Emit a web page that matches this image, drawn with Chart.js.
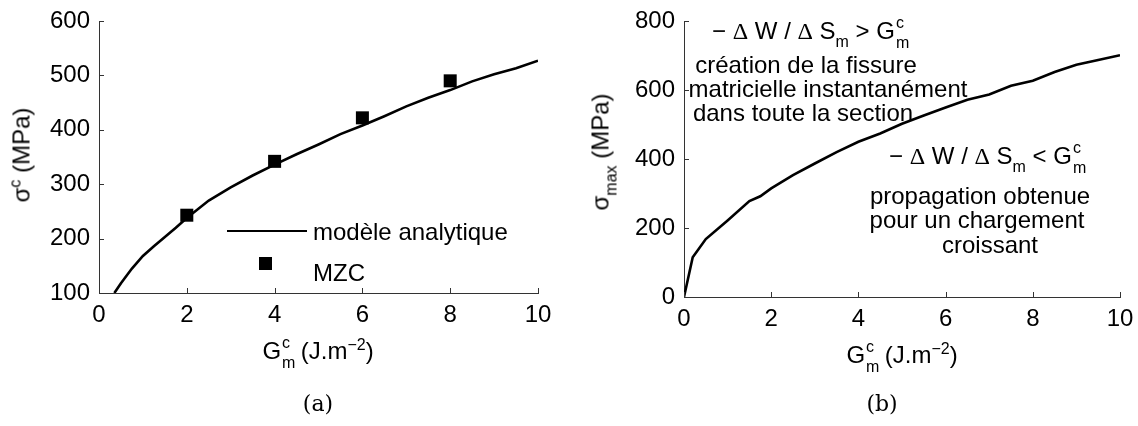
<!DOCTYPE html>
<html>
<head>
<meta charset="utf-8">
<script src="https://cdn.jsdelivr.net/npm/chart.js@4/dist/chart.umd.min.js"></script>
<style>
  html, body { margin:0; padding:0; background:#fff; }
  #wrap { position:relative; width:1138px; height:426px; overflow:hidden; background:#fff; }
  #cA { position:absolute; left:0; top:0; }
  #cB { position:absolute; left:560px; top:0; }
  .t { position:absolute; white-space:nowrap; transform:translate(-50%,-50%);
       font-family:"Liberation Sans", Arial, sans-serif; font-size:24px; color:#000; line-height:28px; }
  .l { position:absolute; white-space:nowrap; transform:translate(0,-50%);
       font-family:"Liberation Sans", Arial, sans-serif; font-size:24px; color:#000; line-height:28px; }
  .rot { transform:translate(-50%,-50%) rotate(-90deg); }
  .cap { font-family:"DejaVu Serif", "Liberation Serif", serif; font-size:22px; }
  .sup { font-size:16px; position:relative; top:-9px; }
  .sub { font-size:16px; position:relative; top:8px; }
  .ss { display:inline-block; position:relative; width:13px; height:20px; vertical-align:baseline; }
  .ss .a { position:absolute; left:1px; top:-4px; font-size:16px; line-height:16px; }
  .ss .b { position:absolute; left:1px; top:16px; font-size:16px; line-height:16px; }
  .dl { font-family:"Liberation Serif", "DejaVu Serif", serif; }
</style>
</head>
<body>
<div id="wrap">
  <canvas id="cA" width="560" height="426"></canvas>
  <canvas id="cB" width="578" height="426"></canvas>

  <!-- left chart texts -->
  <div class="t rot" style="left:23px; top:155px;">σ<span class="sup">c</span> (MPa)</div>
  <div class="t" style="left:318px; top:352px;">G<span class="ss"><span class="a">c</span><span class="b">m</span></span> (J.m<span class="sup">−2</span>)</div>
  <div class="t cap" style="left:318px; top:404px;">(a)</div>
  <div id="legLine" style="position:absolute; left:227px; top:230px; width:80px; height:0; border-top:2px solid #000;"></div>
  <div id="legSq" style="position:absolute; left:259px; top:257px; width:13px; height:13px; background:#000;"></div>
  <div class="l" style="left:313px; top:232px;">modèle analytique</div>
  <div class="l" style="left:313px; top:273px;">MZC</div>

  <!-- right chart texts -->
  <div class="t rot" style="left:602px; top:152px;">σ<span class="sub">max</span> (MPa)</div>
  <div class="t" style="left:902px; top:356px;">G<span class="ss"><span class="a">c</span><span class="b">m</span></span> (J.m<span class="sup">−2</span>)</div>
  <div class="t cap" style="left:882px; top:404px;">(b)</div>

  <div class="t" style="left:810px; top:32px;">− <span class="dl">Δ</span> W / <span class="dl">Δ</span> S<span class="sub">m</span> &gt; G<span class="ss"><span class="a">c</span><span class="b">m</span></span></div>
  <div class="t" style="left:806px; top:65px;">création de la fissure</div>
  <div class="t" style="left:828px; top:89px;">matricielle instantanément</div>
  <div class="t" style="left:803px; top:113px;">dans toute la section</div>

  <div class="t" style="left:987px; top:157px;">− <span class="dl">Δ</span> W / <span class="dl">Δ</span> S<span class="sub">m</span> &lt; G<span class="ss"><span class="a">c</span><span class="b">m</span></span></div>
  <div class="t" style="left:980px; top:196px;">propagation obtenue</div>
  <div class="t" style="left:977px; top:220px;">pour un chargement</div>
  <div class="t" style="left:990px; top:245px;">croissant</div>
</div>

<script>
// ---- data ----
const modelX = [0.35, 0.5, 0.75, 1, 1.25, 1.5, 1.75, 2, 2.5, 3, 3.5, 4, 4.5, 5, 5.5, 6, 6.5, 7, 7.5, 8, 8.5, 9, 9.5, 10];
const modelY = [100, 118, 145, 168, 186, 203, 220, 238, 270, 294, 316, 336, 355, 373, 392, 408, 425, 443, 459, 473, 489, 502, 513, 527];
const mzcX = [2, 4, 6, 8];
const mzcY = [243, 342, 422, 490];
const sigmaMaxX = [0, 0.2, 0.5, 1, 1.5, 1.75, 2, 2.5, 3, 3.5, 4, 4.5, 5, 5.5, 6, 6.5, 7, 7.5, 8, 8.5, 9, 9.5, 10];
const sigmaMaxY = [0, 115, 168, 222, 278, 292, 315, 353, 387, 420, 450, 474, 502, 526, 549, 572, 587, 612, 627, 652, 673, 687, 701];
const xTicksA = [0, 2, 4, 6, 8, 10];
const yTicksA = [100, 200, 300, 400, 500, 600];
const xTicksB = [0, 2, 4, 6, 8, 10];
const yTicksB = [0, 200, 400, 600, 800];

const FONT = { family: '"Liberation Sans", Arial, sans-serif', size: 24 };
const AXIS = '#333';

function pts(xs, ys) { return xs.map((x, i) => ({ x: x, y: ys[i] })); }

const inwardTicks = {
  id: 'inwardTicks',
  afterDraw(chart) {
    const ctx = chart.ctx, a = chart.chartArea;
    const xs = chart.scales.x, ys = chart.scales.y;
    ctx.save();
    ctx.strokeStyle = AXIS; ctx.lineWidth = 1;
    ctx.beginPath();
    xs.ticks.forEach(t => { const px = Math.round(xs.getPixelForValue(t.value)) + 0.5; ctx.moveTo(px, a.bottom); ctx.lineTo(px, a.bottom - 5); });
    ys.ticks.forEach(t => { const py = Math.round(ys.getPixelForValue(t.value)) + 0.5; ctx.moveTo(a.left, py); ctx.lineTo(a.left + 5, py); });
    ctx.stroke();
    ctx.restore();
  }
};

function makeScales(xTicks, yTicks, yW, xH) {
  return {
    x: {
      type: 'linear', min: xTicks[0], max: xTicks[xTicks.length - 1],
      afterBuildTicks: s => { s.ticks = xTicks.map(v => ({ value: v })); },
      afterFit: s => { s.height = xH; s.paddingLeft = 0; s.paddingRight = 0; },
      grid: { display: false, drawTicks: false },
      border: { display: true, color: AXIS, width: 1 },
      ticks: { font: FONT, color: '#000', padding: 8, maxRotation: 0 }
    },
    y: {
      type: 'linear', min: yTicks[0], max: yTicks[yTicks.length - 1],
      afterBuildTicks: s => { s.ticks = yTicks.map(v => ({ value: v })); },
      afterFit: s => { s.width = yW; s.paddingTop = 0; s.paddingBottom = 0; },
      grid: { display: false, drawTicks: false },
      border: { display: true, color: AXIS, width: 1 },
      ticks: { font: FONT, color: '#000', padding: 9 }
    }
  };
}

const common = {
  responsive: false, animation: false, devicePixelRatio: 1,
  plugins: { legend: { display: false }, tooltip: { enabled: false } }
};

new Chart(document.getElementById('cA'), {
  type: 'scatter',
  data: {
    datasets: [
      { label: 'modèle analytique', data: pts(modelX, modelY), showLine: true, borderColor: '#000', borderWidth: 2.6, pointRadius: 0, tension: 0, fill: false },
      { label: 'MZC', data: pts(mzcX, mzcY), showLine: false, pointStyle: 'rect', pointRadius: 9.2, backgroundColor: '#000', borderColor: '#000', borderWidth: 0 }
    ]
  },
  options: Object.assign({}, common, {
    layout: { padding: { left: 0, top: 21, right: 22, bottom: 93 } },
    scales: makeScales(xTicksA, yTicksA, 99, 40)
  }),
  plugins: [inwardTicks]
});

new Chart(document.getElementById('cB'), {
  type: 'scatter',
  data: {
    datasets: [
      { label: 'σmax', data: pts(sigmaMaxX, sigmaMaxY), showLine: true, borderColor: '#000', borderWidth: 2.6, pointRadius: 0, tension: 0, fill: false }
    ]
  },
  options: Object.assign({}, common, {
    layout: { padding: { left: 0, top: 21, right: 18, bottom: 89 } },
    scales: makeScales(xTicksB, yTicksB, 124, 40)
  }),
  plugins: [inwardTicks]
});
</script>
</body>
</html>
